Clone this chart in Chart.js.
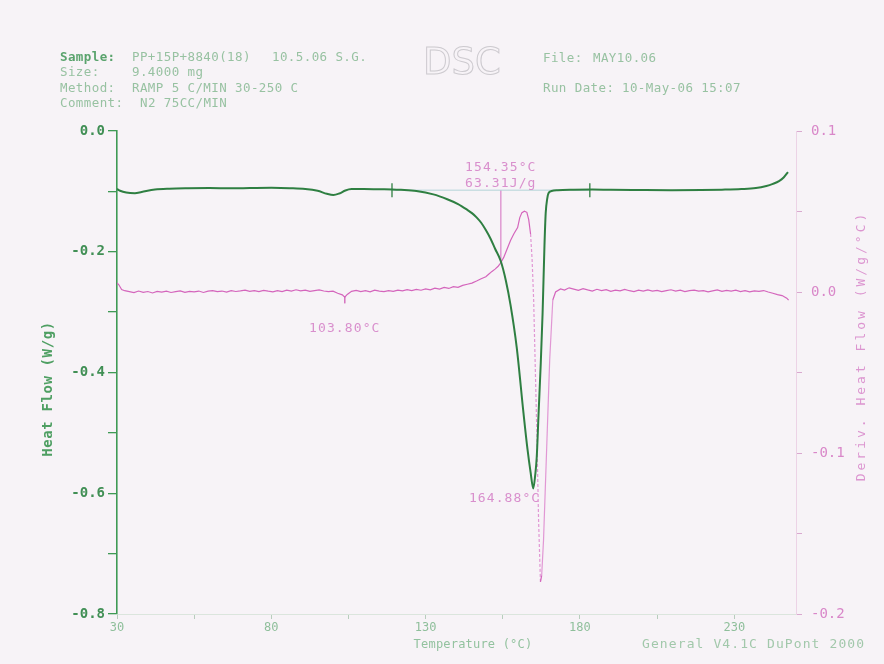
<!DOCTYPE html>
<html>
<head>
<meta charset="utf-8">
<script src="https://cdn.jsdelivr.net/npm/chart.js@4/dist/chart.umd.min.js"></script>
<style>
  html, body { margin: 0; padding: 0; background: #f7f3f7; }
  #wrap { width: 884px; height: 664px; position: relative; }
</style>
</head>
<body>
<div id="wrap"><canvas id="dsc"></canvas></div>
<script>
// Heat flow trace (W/g) against temperature (°C)
const heatTemps = [30.0, 31, 33, 35.8, 38, 42.3, 47, 53, 60, 67, 73, 80, 86, 91, 95, 98, 100.1, 102, 104, 106,
  110, 115, 119.2, 122, 127, 132.5, 137, 140.5, 143.6, 145, 146.5, 148, 149.5, 151, 152.5, 154.3, 156, 157.5,
  159.5, 161.7, 163, 164, 164.88, 165.5, 166, 166.6, 167.3, 167.9, 168.5, 168.9, 169.4, 169.8, 170.8, 172.8,
  178, 184.1, 190, 200, 210, 219.3, 226, 232.3, 237, 240.4, 242.5, 244.5, 246, 247.4];
const heatFlow = [-0.096, -0.099, -0.102, -0.103, -0.101, -0.097, -0.0955, -0.0948, -0.0945, -0.0948, -0.0945,
  -0.0942, -0.0948, -0.0960, -0.0990, -0.1040, -0.1060, -0.1035, -0.0985, -0.0962, -0.0960, -0.0965, -0.0968,
  -0.0975, -0.0995, -0.1050, -0.1130, -0.1210, -0.1310, -0.1360, -0.1430, -0.1520, -0.1640, -0.1780, -0.1950,
  -0.2150, -0.2480, -0.2880, -0.3580, -0.4670, -0.5270, -0.5650, -0.5920, -0.5700, -0.5400, -0.4670, -0.3850,
  -0.3010, -0.1900, -0.1360, -0.1120, -0.1030, -0.0995, -0.0980, -0.0972, -0.0970, -0.0975, -0.0978, -0.0980,
  -0.0978, -0.0972, -0.0962, -0.0945, -0.0910, -0.0875, -0.0830, -0.0770, -0.0680];

// Derivative heat flow trace (W/g/°C)
const derivTemps = [30.0, 30.6, 31.5, 32.5, 34, 35.5, 37, 38.5, 40, 41.5, 43, 44.5, 46, 47.5, 49, 50.5, 52, 53.5,
  55, 56.5, 58, 59.5, 61, 62.5, 64, 65.5, 67, 68.5, 70, 71.5, 73, 74.5, 76, 77.5, 79, 80.5, 82, 83.5, 85, 86.5,
  88, 89.5, 91, 92.5, 94, 95.5, 97, 98.5, 100, 101.5, 103, 103.8, 104.6, 106, 107.5, 109, 110.5, 112, 113.5,
  115, 116.5, 118, 119.5, 121, 122.5, 124, 125.5, 127, 128.5, 130, 131.5, 133, 134.5, 136, 137.5, 139, 140.5,
  142, 143.5, 145, 146.5, 148, 149.5, 150.5, 151.5, 152.5, 153.5, 154.3, 155.3, 156.3, 157.5, 158.6, 159.8,
  160.5, 161.2, 162.0, 162.8, 163.4, 164.0, 164.5, 165.0, 165.5, 166.0, 166.6, 167.2, 167.6, 168.2, 169.2,
  170.2, 171.2, 172.1, 173.7, 175, 176.5, 178, 179.5, 181, 182.5, 184, 185.5, 187, 188.5, 190, 191.5, 193,
  194.5, 196, 197.5, 199, 200.5, 202, 203.5, 205, 206.5, 208, 209.5, 211, 212.5, 214, 215.5, 217, 218.5, 220,
  221.5, 223, 224.5, 226, 227.5, 229, 230.5, 232, 233.5, 235, 236.5, 238, 239.5, 241, 242.5, 244, 245.5, 247,
  247.6];
const derivFlow = [0.0056, 0.0045, 0.0015, 0.0008, 0.0002, -0.0004, 0.0006, -0.0002, 0.0003, -0.0006, 0.0004,
  -0.0001, 0.0005, -0.0003, 0.0002, 0.0007, -0.0002, 0.0004, 0.0001, 0.0006, -0.0003, 0.0005, 0.0009, 0.0002,
  0.0006, -0.0001, 0.0008, 0.0003, 0.0007, 0.0012, 0.0004, 0.0009, 0.0002, 0.0010, 0.0005, 0.0001, 0.0008,
  0.0003, 0.0011, 0.0006, 0.0014, 0.0007, 0.0012, 0.0004, 0.0009, 0.0013, 0.0006, 0.0002, 0.0005, -0.0008,
  -0.0018, -0.0032, -0.0015, 0.0004, 0.0010, 0.0003, 0.0008, 0.0001, 0.0011, 0.0006, 0.0002, 0.0009, 0.0004,
  0.0012, 0.0007, 0.0015, 0.0009, 0.0016, 0.0011, 0.0019, 0.0013, 0.0024, 0.0018, 0.0028, 0.0022, 0.0033,
  0.0029, 0.0041, 0.0048, 0.0055, 0.0068, 0.0082, 0.0095, 0.0112, 0.0128, 0.0142, 0.0160, 0.0180, 0.0215,
  0.0262, 0.0320, 0.0362, 0.0400, 0.0462, 0.0493, 0.0502, 0.0495, 0.0450, 0.0360, 0.0200, -0.0050, -0.0450,
  -0.0850, -0.1420, -0.1800, -0.1760, -0.1540, -0.0980, -0.0420, -0.0050, 0.0000, 0.0019, 0.0012, 0.0026,
  0.0018, 0.0010, 0.0021, 0.0013, 0.0006, 0.0017, 0.0009, 0.0015, 0.0004, 0.0012, 0.0007, 0.0016, 0.0008,
  0.0003, 0.0011, 0.0005, 0.0013, 0.0006, 0.0010, 0.0002, 0.0009, 0.0014, 0.0006, 0.0011, 0.0003, 0.0008,
  0.0012, 0.0005, 0.0009, 0.0001, 0.0007, 0.0013, 0.0004, 0.0010, 0.0006, 0.0011, 0.0003, 0.0008, 0.0001,
  0.0007, 0.0004, 0.0009, 0.0000, -0.0008, -0.0016, -0.0022, -0.0038, -0.0050];

// Axis ticks and their labels
const tempTicks = [30, 55, 80, 105, 130, 155, 180, 205, 230];
const tempLabels = [30, 80, 130, 180, 230];
const heatTicks = [0, -0.1, -0.2, -0.3, -0.4, -0.5, -0.6, -0.7, -0.8];
const heatLabels = [0, -0.2, -0.4, -0.6, -0.8];
const derivTicks = [0.1, 0.05, 0, -0.05, -0.1, -0.15, -0.2];
const derivLabels = [0.1, 0, -0.1, -0.2];

// Analysis results
const integLimits = [119.1, 183.2];
const integBaseline = -0.098;
const onsetTemp = 154.35;
const onsetDepth = -0.218;
const enthalpy = 63.31;
const peakTemp = 164.88;
const peakFlow = -0.592;
const derivDipTemp = 103.80;
const derivDipFlow = -0.003;

const MONO = '"DejaVu Sans Mono", "Liberation Mono", monospace';

function pts(xs, ys) { return xs.map((x, i) => ({ x: x, y: ys[i] })); }

function drawText(ctx, str, x, y, opts) {
  ctx.save();
  ctx.font = opts.font;
  ctx.fillStyle = opts.color;
  ctx.textAlign = opts.align || 'left';
  ctx.textBaseline = 'middle';
  try { ctx.letterSpacing = (opts.spacing || 0) + 'px'; } catch (e) {}
  if (opts.rotate) {
    ctx.translate(x, y);
    ctx.rotate(opts.rotate);
    ctx.fillText(str, 0, 0);
  } else {
    ctx.fillText(str, x, y);
  }
  ctx.restore();
}

const pageDecor = {
  id: 'pageDecor',
  beforeDraw(chart) {
    const ctx = chart.ctx;
    ctx.save();
    ctx.fillStyle = '#f7f3f7';
    ctx.fillRect(0, 0, chart.width, chart.height);
    ctx.restore();
  },
  afterDraw(chart) {
    const ctx = chart.ctx;
    const xs = chart.scales.x, ys = chart.scales.y, y2s = chart.scales.y2;
    const hdr = { font: '12.5px ' + MONO, color: '#98c2a2', spacing: 0.4 };
    const hdrDark = { font: 'bold 12.5px ' + MONO, color: '#5aa36d', spacing: 0.4 };

    // run information block
    drawText(ctx, 'Sample:', 60, 58, hdrDark);
    drawText(ctx, 'PP+15P+8840(18)', 132, 58, hdr);
    drawText(ctx, '10.5.06 S.G.', 272, 58, hdr);
    drawText(ctx, 'Size:', 60, 73, hdr);
    drawText(ctx, '9.4000 mg', 132, 73, hdr);
    drawText(ctx, 'Method:', 60, 89, hdr);
    drawText(ctx, 'RAMP 5 C/MIN 30-250 C', 132, 89, hdr);
    drawText(ctx, 'Comment:', 60, 104, hdr);
    drawText(ctx, 'N2 75CC/MIN', 140, 104, hdr);
    drawText(ctx, 'File:', 543, 59, hdr);
    drawText(ctx, 'MAY10.06', 593, 59, hdr);
    drawText(ctx, 'Run Date:', 543, 89, hdr);
    drawText(ctx, '10-May-06 15:07', 622, 89, hdr);

    // instrument mark, outlined
    ctx.save();
    ctx.font = '37px "DejaVu Sans", sans-serif';
    ctx.strokeStyle = '#cdcacf';
    ctx.lineWidth = 1;
    ctx.textBaseline = 'middle';
    ctx.strokeText('DSC', 423, 64);
    ctx.restore();

    // axis titles
    drawText(ctx, 'Heat Flow (W/g)', 48, 389,
      { font: 'bold 14px ' + MONO, color: '#4f9f63', align: 'center', spacing: 0.6, rotate: -Math.PI / 2 });
    drawText(ctx, 'Deriv. Heat Flow (W/g/°C)', 862, 346,
      { font: '13px ' + MONO, color: '#dc95d0', align: 'center', spacing: 3, rotate: -Math.PI / 2 });
    drawText(ctx, 'Temperature (°C)', 473, 645,
      { font: '12px ' + MONO, color: '#93c29f', align: 'center', spacing: 0.2 });
    drawText(ctx, 'General V4.1C DuPont 2000', 642, 645,
      { font: '13px ' + MONO, color: '#a2c8ab', spacing: 1.1 });

    // result labels tied to the analysed points
    const note = { font: '13px ' + MONO, color: '#d98fcd', align: 'center', spacing: 1.1 };
    const ox = xs.getPixelForValue(onsetTemp);
    const by = ys.getPixelForValue(integBaseline);
    drawText(ctx, onsetTemp.toFixed(2) + '°C', ox, by - 23, note);
    drawText(ctx, enthalpy.toFixed(2) + 'J/g', ox, by - 7, note);
    const dx = xs.getPixelForValue(derivDipTemp);
    const dy = y2s.getPixelForValue(derivDipFlow);
    drawText(ctx, derivDipTemp.toFixed(2) + '°C', dx, dy + 32, note);
    const px = xs.getPixelForValue(peakTemp);
    const py = ys.getPixelForValue(peakFlow);
    drawText(ctx, peakTemp.toFixed(2) + '°C', px + 7, py + 10, Object.assign({}, note, { align: 'right' }));
  }
};

const steepDown = (ctx) => (ctx.p1.parsed.y < ctx.p0.parsed.y && Math.abs(ctx.p1.y - ctx.p0.y) > 25);
const steepAny = (ctx) => Math.abs(ctx.p1.y - ctx.p0.y) > 25;

new Chart(document.getElementById('dsc'), {
  type: 'line',
  data: {
    datasets: [
      {
        label: 'Heat Flow',
        data: pts(heatTemps, heatFlow),
        yAxisID: 'y',
        borderColor: '#2f7f42',
        borderWidth: 2,
        pointRadius: 0,
        cubicInterpolationMode: 'monotone',
        order: 1
      },
      {
        label: 'Deriv. Heat Flow',
        data: pts(derivTemps, derivFlow),
        yAxisID: 'y2',
        borderColor: '#d465bc',
        borderWidth: 1.2,
        pointRadius: 0,
        tension: 0,
        segment: {
          borderColor: (ctx) => steepAny(ctx) ? 'rgba(218, 120, 200, 0.75)' : undefined,
          borderDash: (ctx) => steepDown(ctx) ? [3, 2] : undefined
        },
        order: 2
      },
      {
        label: 'Integration baseline',
        data: [{ x: integLimits[0], y: integBaseline }, { x: integLimits[1], y: integBaseline }],
        yAxisID: 'y',
        borderColor: '#b4d3d8',
        borderWidth: 1,
        pointRadius: 0,
        order: 4
      },
      {
        label: 'Integration limits',
        type: 'scatter',
        data: integLimits.map((t) => ({ x: t, y: integBaseline })),
        yAxisID: 'y',
        pointStyle: 'line',
        rotation: 90,
        radius: 7,
        borderColor: '#2f7f42',
        borderWidth: 1.3,
        showLine: false,
        order: 0
      },
      {
        label: 'Onset',
        data: [{ x: onsetTemp, y: integBaseline }, { x: onsetTemp, y: onsetDepth }],
        yAxisID: 'y',
        borderColor: 'rgba(222, 150, 210, 0.75)',
        borderWidth: 1,
        pointRadius: 0,
        order: 5
      },
      {
        label: 'Deriv. marker',
        data: [{ x: derivDipTemp, y: derivDipFlow }, { x: derivDipTemp, y: derivDipFlow - 0.004 }],
        yAxisID: 'y2',
        borderColor: 'rgba(212, 110, 190, 0.8)',
        borderWidth: 1,
        pointRadius: 0,
        order: 5
      }
    ]
  },
  options: {
    responsive: true,
    maintainAspectRatio: false,
    animation: false,
    events: [],
    layout: { padding: { top: 131, left: 0, right: 0, bottom: 0 } },
    plugins: { legend: { display: false }, tooltip: { enabled: false }, title: { display: false } },
    scales: {
      x: {
        type: 'linear',
        min: 30,
        max: 250,
        afterBuildTicks: (s) => { s.ticks = tempTicks.map((v) => ({ value: v })); },
        afterFit: (s) => { s.height = 50; },
        ticks: {
          autoSkip: false,
          maxRotation: 0,
          padding: 2,
          font: { family: MONO, size: 12 },
          color: '#8fbf9b',
          callback: (v) => tempLabels.includes(v) ? String(v) : ''
        },
        grid: { drawOnChartArea: false, tickLength: 5, color: '#b8cdbd' },
        border: { display: true, color: '#dbe5dd', width: 1 }
      },
      y: {
        position: 'left',
        min: -0.8,
        max: 0,
        afterBuildTicks: (s) => { s.ticks = heatTicks.map((v) => ({ value: v })); },
        afterFit: (s) => { s.width = 117; },
        ticks: {
          autoSkip: false,
          padding: 3,
          font: { family: MONO, size: 14, weight: 'bold' },
          color: '#418f55',
          callback: (v) => heatLabels.includes(v) ? v.toFixed(1) : ''
        },
        grid: { drawOnChartArea: false, tickLength: 9, color: '#3f9a55', lineWidth: 1.3 },
        border: { display: true, color: '#3f9a55', width: 1.6 }
      },
      y2: {
        position: 'right',
        min: -0.2,
        max: 0.1,
        afterBuildTicks: (s) => { s.ticks = derivTicks.map((v) => ({ value: v })); },
        afterFit: (s) => { s.width = 88; },
        ticks: {
          autoSkip: false,
          padding: 9,
          font: { family: MONO, size: 14 },
          color: '#d987c9',
          callback: (v) => derivLabels.includes(v) ? v.toFixed(1) : ''
        },
        grid: { drawOnChartArea: false, tickLength: 6, color: '#d9a9cf' },
        border: { display: true, color: '#ecd3e6', width: 1 }
      }
    }
  },
  plugins: [pageDecor]
});
</script>
</body>
</html>
